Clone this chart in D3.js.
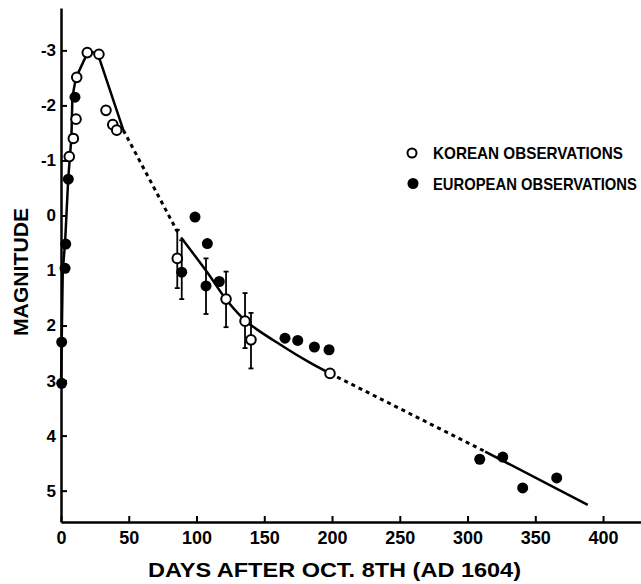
<!DOCTYPE html>
<html lang="en">
<head>
<meta charset="utf-8">
<title>Kepler supernova light curve</title>
<script src="https://d3js.org/d3.v7.min.js"></script>
<style>
  body { margin: 0; background: #fff; }
  svg text { font-family: "Liberation Sans", Arial, sans-serif; fill: #000; }
</style>
</head>
<body>
<svg id="chart" width="641" height="584"></svg>
<script>
// ---- data ----
const xTicks = [0, 50, 100, 150, 200, 250, 300, 350, 400];
const yTicks = [-3, -2, -1, 0, 1, 2, 3, 4, 5];

// Korean observations (open circles)
const koreanDays = [6.1, 9.1, 11.1, 11.6, 19.4, 28, 33.2, 38.2, 41.1, 85.8, 121.8, 135.8, 140.2, 198.5];
const koreanMag  = [-1.07, -1.40, -1.75, -2.51, -2.96, -2.93, -1.91, -1.65, -1.55, 0.78, 1.52, 1.92, 2.26, 2.87];

// European observations (filled circles)
const europeanDays = [0.5, 0.5, 3, 3.5, 5.4, 10.3, 89.1, 98.9, 107, 108, 116.8, 165.3, 174.7, 187, 197.8, 309, 326, 340.7, 365.8];
const europeanMag  = [3.05, 2.3, 0.96, 0.52, -0.66, -2.15, 1.03, 0.03, 1.28, 0.51, 1.2, 2.23, 2.27, 2.39, 2.44, 4.43, 4.39, 4.95, 4.77];

// error bars
const errDays = [85.8, 89.1, 107, 121.8, 135.8, 140.2];
const errLow  = [0.26, 0.45, 0.78, 1.02, 1.41, 1.77];
const errHigh = [1.32, 1.52, 1.79, 2.03, 2.41, 2.78];

// light curve pieces [day, magnitude]
const riseCurve   = [[0, 3.1], [1.3, 1.0], [3, 0.5], [5.3, -0.65], [7.7, -1.43], [8.4, -2.15], [11, -2.5], [20, -2.98], [27, -2.95], [46, -1.55]];
const gapCurve1   = [[46, -1.55], [86, 0.3]];
const middleCurve = [[88.6, 0.4], [107.5, 1.02], [122.3, 1.54], [137, 1.93], [164, 2.38], [184, 2.68], [198.5, 2.87]];
const gapCurve2   = [[198.5, 2.87], [313, 4.29]];
const tailCurve   = [[313, 4.29], [388.7, 5.26]];

const legendLabels = ["KOREAN OBSERVATIONS", "EUROPEAN OBSERVATIONS"];

// ---- chart ----
const svg = d3.select("#chart");

const x = d3.scaleLinear().domain([0, 428]).range([61, 641]);
const y = d3.scaleLinear().domain([-3.77, 5.57]).range([8, 522]);

// axes, ticks pointing inward
const xAxis = d3.axisBottom(x).tickValues(xTicks).tickSizeInner(-6).tickSizeOuter(0).tickPadding(9);
const gx = svg.append("g").attr("transform", "translate(0," + y.range()[1] + ")").call(xAxis);
gx.select(".domain").attr("stroke-width", 2.5);
gx.selectAll(".tick line").attr("stroke-width", 2);
gx.selectAll(".tick text").attr("font-size", 18).attr("font-weight", "bold").attr("dy", "0.72em");

const yAxis = d3.axisLeft(y).tickValues(yTicks).tickSizeInner(-6).tickSizeOuter(0).tickPadding(5)
  .tickFormat(d => String(d));
const gy = svg.append("g").attr("transform", "translate(" + x.range()[0] + ",0)").call(yAxis);
gy.select(".domain").attr("stroke-width", 2.5);
gy.selectAll(".tick line").attr("stroke-width", 2);
gy.selectAll(".tick text").attr("font-size", 17).attr("font-weight", "bold");

// axis titles
svg.append("text")
  .attr("x", 148).attr("y", 577)
  .attr("textLength", 373).attr("lengthAdjust", "spacingAndGlyphs")
  .attr("font-size", 20).attr("font-weight", "bold")
  .text("DAYS AFTER OCT. 8TH (AD 1604)");

svg.append("text")
  .attr("transform", "translate(28,272) rotate(-90)")
  .attr("text-anchor", "middle")
  .attr("textLength", 128).attr("lengthAdjust", "spacingAndGlyphs")
  .attr("font-size", 20).attr("font-weight", "bold")
  .text("MAGNITUDE");

// light curve
const line = d3.line().x(d => x(d[0])).y(d => y(d[1]));
const smooth = d3.line().x(d => x(d[0])).y(d => y(d[1])).curve(d3.curveCatmullRom);

svg.append("path").datum(riseCurve).attr("d", line)
  .attr("fill", "none").attr("stroke", "#000").attr("stroke-width", 2.5).attr("stroke-linejoin", "round");
svg.append("path").datum(middleCurve).attr("d", smooth)
  .attr("fill", "none").attr("stroke", "#000").attr("stroke-width", 2.5);
svg.append("path").datum(tailCurve).attr("d", line)
  .attr("fill", "none").attr("stroke", "#000").attr("stroke-width", 2.5);
[gapCurve1, gapCurve2].forEach(seg => {
  svg.append("path").datum(seg).attr("d", line)
    .attr("fill", "none").attr("stroke", "#000").attr("stroke-width", 3)
    .attr("stroke-dasharray", "4,4");
});

// error bars
const errors = errDays.map((d, i) => ({ day: d, lo: errLow[i], hi: errHigh[i] }));
const eb = svg.append("g").attr("stroke", "#000").attr("stroke-width", 1.8);
eb.selectAll("line.bar").data(errors).join("line").attr("class", "bar")
  .attr("x1", d => x(d.day)).attr("x2", d => x(d.day))
  .attr("y1", d => y(d.lo)).attr("y2", d => y(d.hi));
eb.selectAll("line.capLo").data(errors).join("line").attr("class", "capLo")
  .attr("x1", d => x(d.day) - 2.5).attr("x2", d => x(d.day) + 2.5)
  .attr("y1", d => y(d.lo)).attr("y2", d => y(d.lo));
eb.selectAll("line.capHi").data(errors).join("line").attr("class", "capHi")
  .attr("x1", d => x(d.day) - 2.5).attr("x2", d => x(d.day) + 2.5)
  .attr("y1", d => y(d.hi)).attr("y2", d => y(d.hi));

// observations
const european = europeanDays.map((d, i) => ({ day: d, mag: europeanMag[i] }));
const korean = koreanDays.map((d, i) => ({ day: d, mag: koreanMag[i] }));

svg.append("g").selectAll("circle").data(european).join("circle")
  .attr("cx", d => x(d.day)).attr("cy", d => y(d.mag)).attr("r", 5.5)
  .attr("fill", "#000");

svg.append("g").selectAll("circle").data(korean).join("circle")
  .attr("cx", d => x(d.day)).attr("cy", d => y(d.mag)).attr("r", 4.8)
  .attr("fill", "#fff").attr("stroke", "#000").attr("stroke-width", 2);

// legend (labels squeezed horizontally so they fit the page)
const legend = svg.append("g");
legend.append("circle").attr("cx", 412).attr("cy", 153).attr("r", 4.5)
  .attr("fill", "#fff").attr("stroke", "#000").attr("stroke-width", 2);
legend.append("circle").attr("cx", 413).attr("cy", 183.5).attr("r", 5.5).attr("fill", "#000");

const legendPos = [[433, 158.5, 190], [433, 189.5, 204]];
legendLabels.forEach((label, i) => {
  const [lx, ly, w] = legendPos[i];
  const g = legend.append("g");
  const t = g.append("text").attr("font-size", 16).attr("font-weight", "bold").text(label);
  const natural = t.node().getComputedTextLength();
  g.attr("transform", "translate(" + lx + "," + ly + ") scale(" + (w / natural) + ",1)");
});
</script>
</body>
</html>
